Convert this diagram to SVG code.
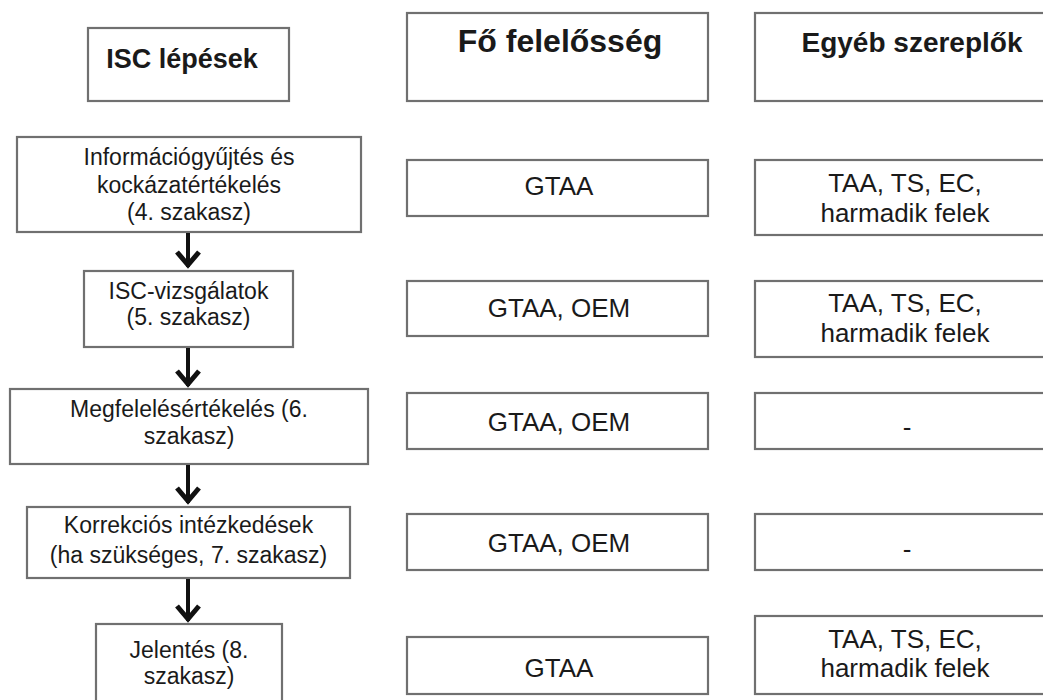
<svg xmlns="http://www.w3.org/2000/svg" width="1043" height="700" viewBox="0 0 1043 700">
<style>
.box{fill:#ffffff;stroke:#707070;stroke-width:2.2}
.t{font-family:"Liberation Sans",Arial,sans-serif;fill:#1a1a1a;text-anchor:middle}
.l{font-size:23px}
.m{font-size:26px}
.hb{font-weight:bold}
.conn{stroke:#111;stroke-width:4;fill:none;marker-end:url(#head)}
</style>
<defs>
<marker id="head" viewBox="0 0 30 30" markerWidth="30" markerHeight="30" refX="26" refY="15" orient="auto" markerUnits="userSpaceOnUse" overflow="visible">
<path d="M11,4 L24,15 L11,26" fill="none" stroke="#111" stroke-width="5" stroke-linejoin="miter"/>
</marker>
</defs>
<rect width="1043" height="700" fill="#ffffff"/>

<g id="hdr-isc">
<rect class="box" x="88" y="28" width="201" height="73"/>
<text class="t hb" x="182" y="68" font-size="27">ISC lépések</text>
</g>
<g id="hdr-fo">
<rect class="box" x="407" y="13" width="301" height="88"/>
<text class="t hb" x="560" y="52" font-size="32">Fő felelősség</text>
</g>
<g id="hdr-egyeb">
<rect class="box" x="755" y="13" width="300" height="88"/>
<text class="t hb" x="912" y="52" font-size="28">Egyéb szereplők</text>
</g>

<g id="step4">
<rect class="box" x="17" y="137" width="344" height="95"/>
<text class="t l" x="189" y="165">Információgyűjtés és</text>
<text class="t l" x="189" y="193">kockázatértékelés</text>
<text class="t l" x="189" y="220">(4. szakasz)</text>
</g>
<g id="step5">
<rect class="box" x="84" y="271" width="209" height="76"/>
<text class="t l" x="188.5" y="299">ISC-vizsgálatok</text>
<text class="t l" x="188.5" y="325">(5. szakasz)</text>
</g>
<g id="step6">
<rect class="box" x="10" y="389" width="358" height="75"/>
<text class="t l" x="189" y="417">Megfelelésértékelés (6.</text>
<text class="t l" x="189" y="444">szakasz)</text>
</g>
<g id="step7">
<rect class="box" x="27" y="507" width="323" height="71"/>
<text class="t l" x="188.5" y="533">Korrekciós intézkedések</text>
<text class="t l" x="188.5" y="563">(ha szükséges, 7. szakasz)</text>
</g>
<g id="step8">
<rect class="box" x="96" y="624" width="186" height="90"/>
<text class="t l" x="189" y="658">Jelentés (8.</text>
<text class="t l" x="189" y="684">szakasz)</text>
</g>

<g id="fo1">
<rect class="box" x="407" y="160" width="301" height="56"/>
<text class="t m" x="559" y="195">GTAA</text>
</g>
<g id="fo2">
<rect class="box" x="407" y="281" width="301" height="55"/>
<text class="t m" x="559" y="317">GTAA, OEM</text>
</g>
<g id="fo3">
<rect class="box" x="407" y="393" width="301" height="56"/>
<text class="t m" x="559" y="431">GTAA, OEM</text>
</g>
<g id="fo4">
<rect class="box" x="407" y="514" width="301" height="56"/>
<text class="t m" x="559" y="552">GTAA, OEM</text>
</g>
<g id="fo5">
<rect class="box" x="407" y="637" width="301" height="57"/>
<text class="t m" x="559" y="677">GTAA</text>
</g>

<g id="eg1">
<rect class="box" x="755" y="160" width="300" height="75"/>
<text class="t m" x="905" y="192">TAA, TS, EC,</text>
<text class="t m" x="905" y="222">harmadik felek</text>
</g>
<g id="eg2">
<rect class="box" x="755" y="281" width="300" height="76"/>
<text class="t m" x="905" y="312">TAA, TS, EC,</text>
<text class="t m" x="905" y="342">harmadik felek</text>
</g>
<g id="eg3">
<rect class="box" x="755" y="393" width="300" height="56"/>
<text class="t m" x="907" y="436">-</text>
</g>
<g id="eg4">
<rect class="box" x="755" y="514" width="300" height="56"/>
<text class="t m" x="907" y="558">-</text>
</g>
<g id="eg5">
<rect class="box" x="755" y="616" width="300" height="78"/>
<text class="t m" x="905" y="648">TAA, TS, EC,</text>
<text class="t m" x="905" y="677">harmadik felek</text>
</g>

<g id="connectors">
<line class="conn" x1="188" y1="233" x2="188" y2="267"/>
<line class="conn" x1="188" y1="348" x2="188" y2="386"/>
<line class="conn" x1="188" y1="465" x2="188" y2="503"/>
<line class="conn" x1="188" y1="579" x2="188" y2="621"/>
</g>
</svg>
